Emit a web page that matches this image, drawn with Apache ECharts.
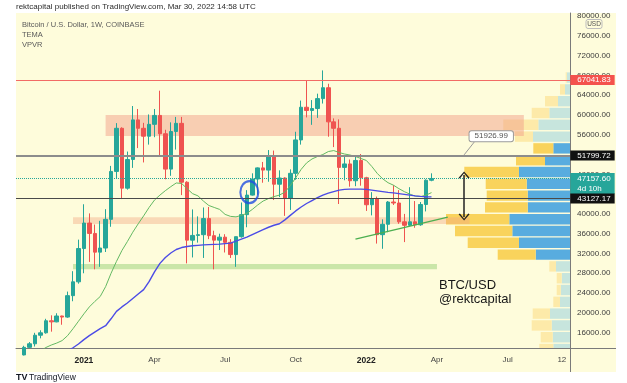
<!DOCTYPE html>
<html><head><meta charset="utf-8">
<script src="https://cdn.jsdelivr.net/npm/echarts@6/dist/echarts.min.js"></script>
<style>html,body{margin:0;padding:0;background:#fff}#c{width:627px;height:383px}</style>
</head><body><div id="c"></div>
<script>
// weekly categories (Monday of each week)
const cats = ['2020-10-12','2020-10-19','2020-10-26','2020-11-02','2020-11-09','2020-11-16','2020-11-23','2020-11-30','2020-12-07','2020-12-14','2020-12-21','2020-12-28',
'2021-01-04','2021-01-11','2021-01-18','2021-01-25','2021-02-01','2021-02-08','2021-02-15','2021-02-22','2021-03-01','2021-03-08','2021-03-15','2021-03-22','2021-03-29','2021-04-05','2021-04-12','2021-04-19','2021-04-26','2021-05-03','2021-05-10','2021-05-17','2021-05-24','2021-05-31','2021-06-07','2021-06-14','2021-06-21','2021-06-28','2021-07-05','2021-07-12','2021-07-19','2021-07-26','2021-08-02','2021-08-09','2021-08-16','2021-08-23','2021-08-30','2021-09-06','2021-09-13','2021-09-20','2021-09-27','2021-10-04','2021-10-11','2021-10-18','2021-10-25','2021-11-01','2021-11-08','2021-11-15','2021-11-22','2021-11-29','2021-12-06','2021-12-13','2021-12-20','2021-12-27',
'2022-01-03','2022-01-10','2022-01-17','2022-01-24','2022-01-31','2022-02-07','2022-02-14','2022-02-21','2022-02-28','2022-03-07','2022-03-14','2022-03-21','2022-03-28','2022-04-04','2022-04-11','2022-04-18','2022-04-25','2022-05-02','2022-05-09','2022-05-16','2022-05-23','2022-05-30','2022-06-06','2022-06-13','2022-06-20','2022-06-27','2022-07-04','2022-07-11','2022-07-18','2022-07-25','2022-08-01','2022-08-08','2022-08-15','2022-08-22','2022-08-29','2022-09-05','2022-09-12','2022-09-19'];

// BTC/USD weekly OHLC
const opens = [11370,11500,13030,13750,15480,15970,18400,18180,19370,19150,
23480,26270,33000,38150,36050,32270,33100,38900,48580,57300,
45200,51000,59000,57300,55700,58100,59900,56200,49050,56650,
58300,46400,34700,35650,35800,39050,35600,34700,35300,34250,
31780,35400,39850,43800,47050,49300,48850,51750,46000,47250,
43200,48200,54950,61550,60900,61300,63300,65500,58600,57300,
49400,50100,46700,50800,47300,41850,43100,35800,37900,42400,
42200,38400,37700,38400,37800,41900,46800];
const closes = [11500,13030,13750,15480,15970,18400,18180,19370,19150,23480,
26270,33000,38150,36050,32270,33100,38900,48580,57300,45200,
51000,59000,57300,55700,58100,59900,56200,49050,56650,58300,
46400,34700,35650,35800,39050,35600,34700,35300,34250,31780,
35400,39850,43800,47050,49300,48850,51750,46000,47250,43200,
48200,54950,61550,60900,61300,63300,65500,58600,57300,49400,
50100,46700,50800,47300,41850,43100,35800,37900,42400,42200,
38400,37700,38400,37800,41900,46800,47157.6];
const highs = [11720,13350,14100,15970,16480,18800,19500,19920,19430,24300,
28420,34800,41950,40100,37850,38600,40950,49700,58350,57500,
52600,61800,61200,58400,60100,61200,64900,57000,58500,59600,
59600,46600,40900,39500,41300,41400,36600,36000,35900,34900,
35400,42300,44800,48200,49400,50500,52900,52800,48800,47400,
49000,56600,62900,67000,63000,64300,69000,66300,59300,59100,
51900,51000,51800,52100,47500,44400,43500,38900,42600,45800,
44800,40000,45400,42600,42400,47000,48200];
const lows = [11200,11400,12950,13200,14850,15800,16200,18100,17600,19000,
22350,25900,28000,30300,28800,29300,32300,37400,47100,43000,
44900,49300,53300,50400,54000,55500,51500,47000,47700,53000,
43800,30000,31200,34200,31100,34900,28800,32700,32200,31100,
29300,35200,37300,43700,43900,46300,46500,42800,43400,39600,
40800,46900,54000,59500,58000,59400,62300,55600,53500,42000,
46800,45500,45600,45700,40600,39700,34000,32950,36300,41800,
38000,34300,37500,37200,37600,40500,46600];

// TEMA lines
const temaFast = [null,null,null,null,12300,13000,13500,13900,14400,15400,
16800,18300,19800,21200,22300,23300,25300,28000,30400,32600,
34400,36300,38000,39600,41300,42800,43800,44700,45500,46250,
46150,45100,44100,43650,42600,41700,41300,40900,39900,39500,
39400,39700,40100,40900,41800,42600,43100,43500,43800,44400,
45700,47300,49000,50300,51100,51600,52000,52600,52800,52400,
52100,51900,51600,51200,50800,49600,48200,47100,46300,45800,
45100,44500,44000,43600,43500,43800,44300];
const temaSlow = [null,null,null,null,null,null,null,null,null,12300,
12950,13700,14600,15400,16100,16800,17400,18800,20300,21200,
22000,22900,23800,24700,26300,28300,30000,31200,32100,32800,
33200,33400,33550,33650,33750,33800,33850,33900,34000,34100,
34500,34900,35300,35800,36300,36800,37300,37700,38000,38800,
39700,40600,41400,42100,42700,43300,43800,44200,44500,44800,
44950,45000,45000,45000,44950,44800,44650,44500,44350,44250,
44100,43950,43800,43650,43550,43480,43450];

// Volume profile (visible range)
const vpCenters = [12690,15080,17460,19850,22230,24620,27000,29390,31770,34160,36540,38930,41310,43700,46080,48470,50850,53240,55620,58010,60390,62780,65160,67550];
const vpRowSize = 2385;
const vpDown = [140,120,200,173,67,40,50,67,380,513,573,633,427,410,410,547,290,200,180,350,176,130,50,10];
const vpUp   = [167,173,183,200,100,93,83,140,343,510,577,607,423,423,433,510,250,167,370,317,207,120,50,33];
const vpValueArea = [0,0,0,0,0,0,0,0,1,1,1,1,1,1,1,1,1,1,0,0,0,0,0,0];

// axis tick labels
const xLabelDates = ['2021-01-04','2021-04-05','2021-07-05','2021-10-04','2022-01-03','2022-04-04','2022-07-04','2022-09-12'];
const xLabelTexts = ['2021','Apr','Jul','Oct','2022','Apr','Jul','12'];

// price levels and drawings
const athLevel = 67041.83, upperLevel = 51799.72, lastPrice = 47157.60, lowerLevel = 43127.17;
const calloutPrice = 51926.99;
const zoneTop = ['2021-02-01','2022-07-25',55750,60000];
const zoneMid = ['2020-12-21','2022-05-16',37950,39300];
const zoneLow = ['2020-12-21','2022-04-04',28800,29900];
const trendLine = [['2021-12-20',34900],['2022-04-18',39350]];
const arrowLine = [['2022-05-09',47850],['2022-05-09',39350]];
const circleMark = ['2021-08-02',44400];
const calloutTail = [['2022-05-09',51926.99],['2022-05-23',54700]];
const calloutPos = ['2022-06-13',55700];

const FONT = "'Liberation Sans', Arial, sans-serif";
const chart = echarts.init(document.getElementById('c'));
const lastCat = cats[cats.length-1];

function priceTag(v, text, bg, extra){
  return Object.assign({coord:[lastCat, v], label:{show:true, position:'right', distance:3, formatter:text,
    backgroundColor:bg, color:'#fff', fontSize:8, fontFamily:FONT, lineHeight:9, padding:[1,4,0,7]}}, extra||{});
}

const chevron = 'path://M0,7 L5,0 L10,7 L8.8,7.8 L5,2 L1.2,7.8 Z';

chart.setOption({
  animation:false,
  backgroundColor:'#ffffff',
  grid:{left:16, right:57, top:13, bottom:35},
  xAxis:[{
    type:'category', data:cats, boundaryGap:true,
    axisLine:{lineStyle:{color:'#7a7a7a', width:1}}, axisTick:{show:false}, splitLine:{show:false},
    axisLabel:{
      interval:(i,v)=>xLabelDates.indexOf(v)>=0,
      formatter:v=>{const k=xLabelDates.indexOf(v); if(k<0) return ''; const t=xLabelTexts[k]; return /^\d{4}$/.test(t)?'{b|'+t+'}':t;},
      margin:8, fontSize:8, color:'#444', fontFamily:FONT,
      rich:{b:{fontWeight:'bold', fontSize:8.5, color:'#222', fontFamily:FONT}}
    }
  },{
    type:'value', show:false, inverse:true, min:0, max:5540
  }],
  yAxis:[{
    type:'value', position:'right', min:12900, max:80600, interval:100, scale:false,
    splitLine:{show:false}, axisTick:{show:false},
    axisLine:{show:true, lineStyle:{color:'#7a7a7a', width:1}},
    axisLabel:{margin:7, fontSize:8, color:'#3c3c3c', fontFamily:FONT,
      formatter:v=>{const r=Math.round(v); return (r%4000===0 && r>=16000)? r.toFixed(2):'';}}
  }],
  graphic:[
    {type:'rect', z:-10, shape:{x:16,y:13,width:600,height:359}, style:{fill:'#fefcdb'}},
    {type:'line', z:10, shape:{x1:570.5,y1:348,x2:570.5,y2:372}, style:{stroke:'#7a7a7a', lineWidth:1}},
    {type:'line', z:10, shape:{x1:570,y1:348.5,x2:616,y2:348.5}, style:{stroke:'#7a7a7a', lineWidth:1}},
    {type:'text', x:16, y:7, style:{text:'rektcapital published on TradingView.com, Mar 30, 2022 14:58 UTC', fill:'#2b2b2b', fontSize:8, fontFamily:FONT, verticalAlign:'middle'}},
    {type:'text', x:22, y:25, style:{text:'Bitcoin / U.S. Dollar, 1W, COINBASE', fill:'#5a5a5a', fontSize:7.5, fontFamily:FONT, verticalAlign:'middle'}},
    {type:'text', x:22, y:35, style:{text:'TEMA', fill:'#5a5a5a', fontSize:7.5, fontFamily:FONT, verticalAlign:'middle'}},
    {type:'text', x:22, y:45, style:{text:'VPVR', fill:'#5a5a5a', fontSize:7.5, fontFamily:FONT, verticalAlign:'middle'}},
    {type:'rect', z:20, shape:{x:586,y:19.5,width:16,height:9,r:2}, style:{fill:'#fefcdb', stroke:'#bdbdbd', lineWidth:1}},
    {type:'text', z:21, x:594, y:24.2, style:{text:'USD', fill:'#555', fontSize:6.5, fontFamily:FONT, align:'center', verticalAlign:'middle'}},
    {type:'text', x:439, y:285.5, style:{text:'BTC/USD', fill:'#161616', fontSize:13, fontFamily:FONT, verticalAlign:'middle'}},
    {type:'text', x:439, y:299.5, style:{text:'@rektcapital', fill:'#161616', fontSize:13, fontFamily:FONT, verticalAlign:'middle'}},
    {type:'text', x:16, y:378, style:{text:'TV', fill:'#131722', fontSize:9, fontWeight:'bold', fontFamily:FONT, verticalAlign:'middle'}},
    {type:'text', x:29, y:378, style:{text:'TradingView', fill:'#131722', fontSize:8.5, fontFamily:FONT, verticalAlign:'middle'}}
  ],
  series:[
    {
      type:'custom', name:'VPVR', z:0.5, xAxisIndex:1, yAxisIndex:0, clip:true, silent:true,
      data: vpCenters.map((c,i)=>[c, vpDown[i], vpUp[i], vpValueArea[i]]),
      encode:{y:0, x:2},
      renderItem:(params, api)=>{
        const c=api.value(0), dn=api.value(1), up=api.value(2), va=api.value(3);
        const yTop=api.coord([0, c+vpRowSize/2])[1]+0.7;
        const yBot=api.coord([0, c-vpRowSize/2])[1]-0.7;
        const x0=api.coord([0,c])[0], xUp=api.coord([up,c])[0], xDn=api.coord([up+dn,c])[0];
        return {type:'group', children:[
          {type:'rect', shape:{x:xUp, y:yTop, width:x0-xUp, height:yBot-yTop}, style:{fill: va?'#58acdf':'#c7e5dd'}},
          {type:'rect', shape:{x:xDn, y:yTop, width:xUp-xDn, height:yBot-yTop}, style:{fill: va?'#f9d35c':'#fdeaa9'}}
        ]};
      }
    },
    {
      type:'candlestick', name:'BTCUSD', z:2, barWidth:4,
      data: opens.map((o,i)=>[o, closes[i], lows[i], highs[i]]),
      itemStyle:{color:'#26a69a', color0:'#ef5350', borderColor:'#26a69a', borderColor0:'#ef5350', borderWidth:1},
      markArea:{silent:true, data:[
        [{xAxis:zoneTop[0], yAxis:zoneTop[2], itemStyle:{color:'rgba(242,160,138,0.5)'}},{xAxis:zoneTop[1], yAxis:zoneTop[3]}],
        [{xAxis:zoneMid[0], yAxis:zoneMid[2], itemStyle:{color:'rgba(244,170,130,0.42)'}},{xAxis:zoneMid[1], yAxis:zoneMid[3]}],
        [{xAxis:zoneLow[0], yAxis:zoneLow[2], itemStyle:{color:'rgba(150,208,118,0.5)'}},{xAxis:zoneLow[1], yAxis:zoneLow[3]}]
      ]},
      markLine:{silent:true, symbol:['none','none'], label:{show:false}, animation:false, data:[
        {yAxis:athLevel, lineStyle:{color:'#f26b65', width:1, type:'solid'}},
        {yAxis:upperLevel, lineStyle:{color:'#8c8c8c', width:2, type:'solid'}},
        {yAxis:lastPrice, lineStyle:{color:'#26a69a', width:1, type:'dotted'}},
        {yAxis:lowerLevel, lineStyle:{color:'#4a4a4a', width:1.2, type:'solid'}},
        [{coord:trendLine[0], lineStyle:{color:'#4caf50', width:1.5, type:'solid'}},{coord:trendLine[1]}],
        [{coord:calloutTail[0], lineStyle:{color:'#9a9a9a', width:1, type:'solid'}},{coord:calloutTail[1]}],
        [{coord:arrowLine[0], symbol:chevron, symbolSize:[11,7], lineStyle:{color:'#222', width:1.5, type:'solid'}},
         {coord:arrowLine[1], symbol:chevron, symbolSize:[11,7]}]
      ]},
      markPoint:{silent:true, symbol:'rect', symbolSize:0.01, itemStyle:{color:'transparent'}, data:[
        priceTag(athLevel, athLevel.toFixed(2), '#f4524d'),
        priceTag(upperLevel, upperLevel.toFixed(2), '#111'),
        priceTag(lastPrice, lastPrice.toFixed(2)+'\n4d 10h', '#26a69a', {label:{show:true, position:'right', distance:3, offset:[0,5],
          formatter:lastPrice.toFixed(2)+'\n4d 10h', backgroundColor:'#26a69a', color:'#fff', fontSize:8, fontFamily:FONT, lineHeight:10, padding:[1,4,0,7]}}),
        priceTag(lowerLevel, lowerLevel.toFixed(2), '#111'),
        {coord:calloutPos, label:{show:true, position:'inside', formatter:calloutPrice.toFixed(2), backgroundColor:'#ffffff',
          borderColor:'#9a9a9a', borderWidth:1, borderRadius:2, padding:[1,5,0,5], color:'#555', fontSize:8, fontFamily:FONT, lineHeight:9}}
      ]}
    },
    {type:'line', name:'TEMA fast', z:3, data:temaFast, showSymbol:false, symbol:'none', silent:true,
      lineStyle:{color:'#63b862', width:1}},
    {type:'line', name:'TEMA slow', z:3, data:temaSlow, showSymbol:false, symbol:'none', silent:true,
      lineStyle:{color:'#4b4be6', width:1.4}},
    {type:'scatter', name:'mark', z:6, silent:true, data:[circleMark], symbol:'circle', symbolSize:[18,22], symbolOffset:[2.5,0],
      itemStyle:{color:'rgba(0,0,0,0)', borderColor:'#1f4ee0', borderWidth:2.2}}
  ]
});
</script></body></html>
